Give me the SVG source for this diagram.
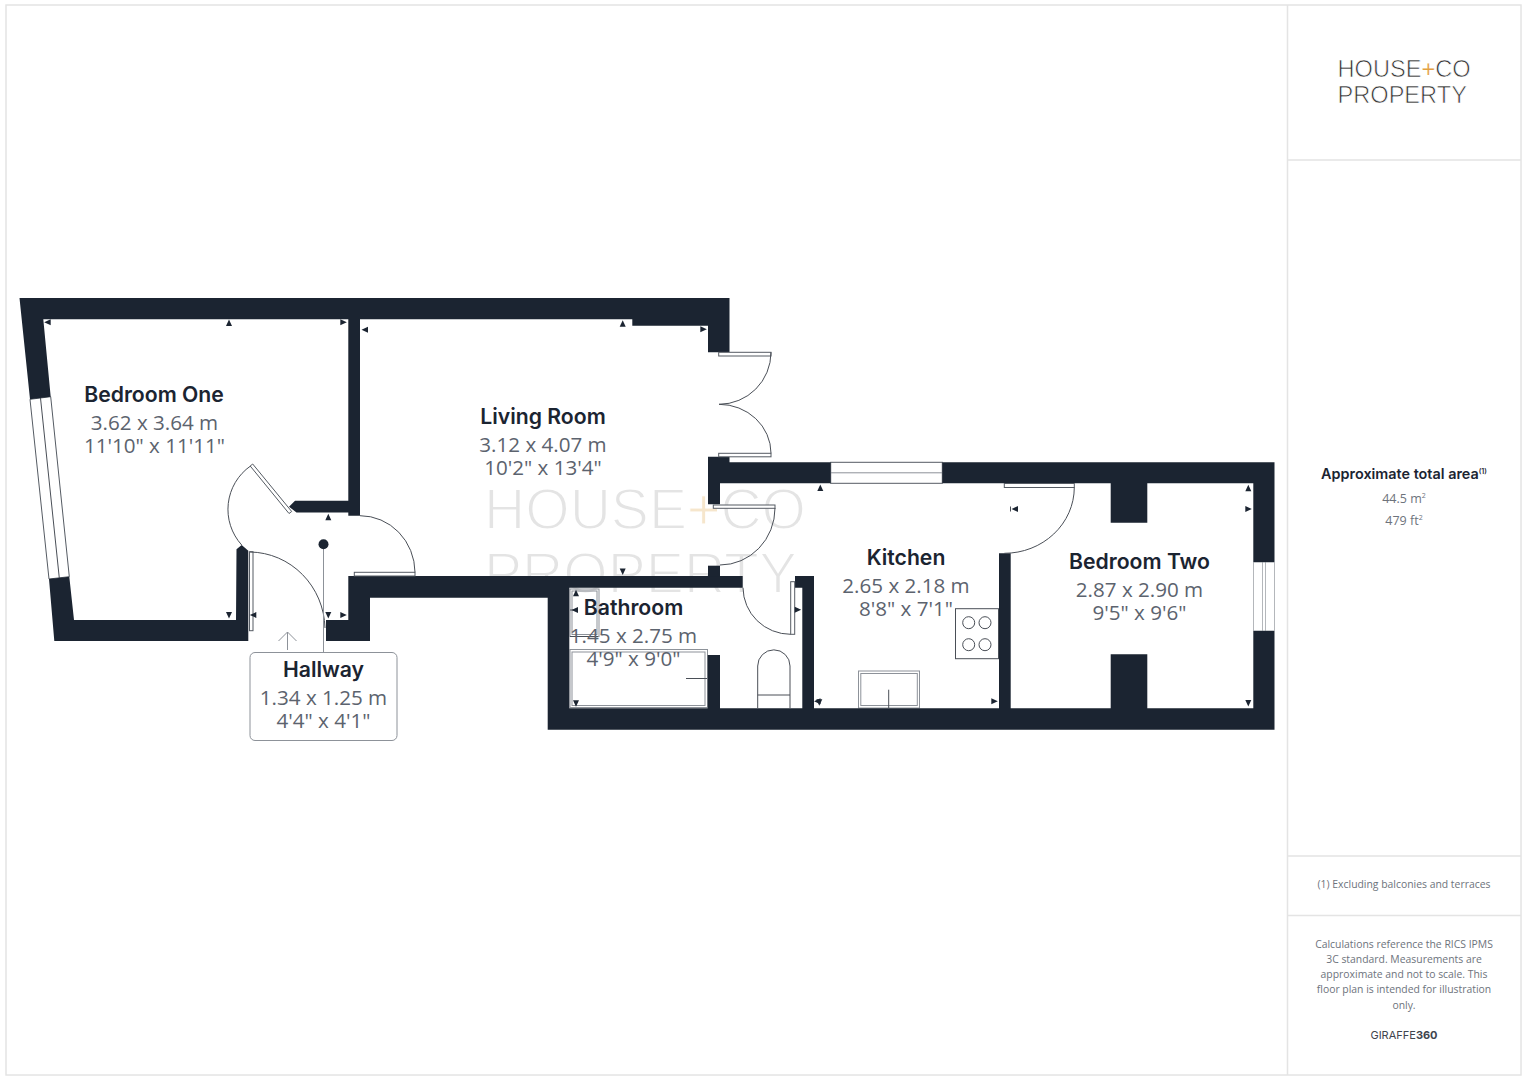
<svg xmlns="http://www.w3.org/2000/svg" width="1527" height="1080" viewBox="0 0 1527 1080">
<style>
.wall{fill:#1b2431}
.ln{fill:none;stroke:#4a4f57;stroke-width:1}
.lf{fill:#fff;stroke:#555b63;stroke-width:1}
.gr{fill:none;stroke:#8d9299;stroke-width:1}
.t{font-family:"Inter","Liberation Sans",sans-serif;font-weight:600;font-size:21.2px;fill:#1b2431;text-anchor:middle}
.d{font-family:"Open Sans","Noto Sans",sans-serif;font-size:20.6px;fill:#5c636e;text-anchor:middle}
.s{font-family:"Open Sans","Noto Sans",sans-serif;font-size:10.4px;fill:#6d737c;text-anchor:middle}
.logo{font-family:"Liberation Sans",Arial,sans-serif;stroke:#fff}
.frame{fill:none;stroke:#e4e4e4;stroke-width:1.5}
</style>
<defs>
<path id="u" d="M-3 3L0-3.5L3 3Z" fill="#1b2431"/>
</defs>
<rect width="1527" height="1080" fill="#fff"/>
<g id="frame">
<rect class="frame" x="6" y="5" width="1515" height="1070"/>
<path class="frame" d="M1287.500 5V1075M1287.500 160H1521M1287.500 856H1521M1287.500 915.500H1521"/>
</g>
<g id="watermark" class="logo" font-size="57.100" fill="#e4e4e4" stroke-width="1.800">
<text x="484" y="528.500">HOUSE<tspan fill="#f6e6cc" stroke-width="1">+</tspan>CO</text>
<text x="484" y="593">PROPERTY</text>
</g>
<g id="fixtures">
<rect class="gr" x="570" y="589" width="29" height="47.500"/>
<rect class="gr" x="572" y="591" width="25" height="43.500"/>
<path class="ln" d="M570 610H578M570 636.500H598"/>
<rect class="gr" x="570" y="649.500" width="137.500" height="58"/>
<rect class="gr" x="572" y="652" width="133" height="53.500"/>
<path class="ln" d="M686 678.500H707"/>
<path class="ln" d="M757.700 708V666A16 16 0 0 1 790 666V708M757.700 695H790"/>
<rect class="ln" x="955.500" y="608.700" width="43" height="50"/>
<circle class="ln" cx="968.700" cy="622.700" r="6"/><circle class="ln" cx="985" cy="622.700" r="6"/>
<circle class="ln" cx="968.700" cy="644.700" r="6"/><circle class="ln" cx="985" cy="644.700" r="6"/>
<rect class="gr" x="858.500" y="671" width="61" height="37"/>
<rect class="gr" x="860.800" y="673.500" width="56.500" height="32"/>
<path class="ln" d="M888.700 689.700V708"/>
</g>
<g id="windows">
<path class="lf" d="M30 399.300L50.700 396.700L69.300 576.700L49 579Z"/>
<path class="ln" d="M40.500 398L59.300 578"/>
<rect class="lf" x="830.700" y="462.300" width="111.600" height="21"/>
<path class="gr" d="M830.700 472.800H942.300"/>
<path d="M1262.500 562.300V630.700M1265.500 562.300V630.700M1253.500 562.300V630.700M1274.500 562.300V630.700" fill="none" stroke="#b4b7bb"/>
</g>
<g id="walls">
<polygon class="wall" points="19.500,298 729.500,298 729.500,352.300 708,352.300 708,325.700 632.300,325.700 632.300,319.300 360,319.300 360,515.700 348.300,515.700 348.300,512.500 296.500,512.500 289,506.700 295,500.700 348.300,500.700 348.300,319.300 43.300,319.300 50.700,396.700 30,399.300"/>
<polygon class="wall" points="49,579 69.300,576.700 74,620 236,620 236.500,549.300 241.700,545 248.300,550.700 248.300,641 54.300,641"/>
<polygon class="wall" points="326,620 348.300,620 348.300,576 742.700,576 742.700,587.700 569.300,587.700 569.300,708.300 707.700,708.300 707.700,655 720,655 720,708.300 802.300,708.300 802.300,587.700 795,587.700 795,576 814,576 814,708.300 999,708.300 999,553.300 1010.700,553.300 1010.700,708.300 1110.700,708.300 1110.700,654.300 1147.300,654.300 1147.300,708.300 1253.300,708.300 1253.300,630.700 1274.500,630.700 1274.500,729.700 547.700,729.700 547.700,597.700 370,597.700 370,641 326,641"/>
<rect class="wall" x="708" y="565.700" width="12" height="11"/>
<polygon class="wall" points="708,456.700 729.500,456.700 729.500,462.300 830.700,462.300 830.700,483.300 720,483.300 720,504.300 708,504.300"/>
<polygon class="wall" points="942.300,462.300 1274.500,462.300 1274.500,562.300 1253.300,562.300 1253.300,483.300 1147.300,483.300 1147.300,522.700 1110.700,522.700 1110.700,483.300 942.300,483.300"/>
</g>
<g id="doors">
<rect class="lf" x="249.500" y="551.700" width="3.500" height="79"/>
<path class="ln" d="M250 552A76 78 0 0 1 325 628"/>
<polygon class="lf" points="252.700,464 291.700,511.500 289,513.500 250.200,466"/>
<path class="ln" d="M250.500 466A53 53 0 0 0 241.700 545"/>
<rect class="lf" x="354.300" y="572.300" width="60.700" height="3.700"/>
<path class="ln" d="M360 515.700A55 57 0 0 1 415 572.300"/>
<rect class="lf" x="718.700" y="352.300" width="52.300" height="3.700"/>
<rect class="lf" x="718.700" y="453.300" width="52.300" height="3.500"/>
<path class="ln" d="M771 352.300A52 52 0 0 1 719 404.300A52 49 0 0 1 771 453.300"/>
<rect class="lf" x="713.300" y="505" width="61.700" height="3.300"/>
<path class="ln" d="M775 508A55 57 0 0 1 720 565"/>
<rect class="lf" x="790.700" y="581.700" width="4" height="52.600"/>
<path class="ln" d="M743 587.700A47.700 47 0 0 0 790.700 634.300"/>
<rect class="lf" x="1004.300" y="483.500" width="70" height="4"/>
<path class="ln" d="M1074.300 487.500A70 66 0 0 1 1004.300 553.300"/>
</g>
<g id="ticks">
<g transform="translate(47.700 322.300) rotate(-90)"><use href="#u"/></g>
<use href="#u" x="229" y="323"/>
<g transform="translate(343.300 322.300) rotate(90)"><use href="#u"/></g>
<g transform="translate(365 329.700) rotate(-90)"><use href="#u"/></g>
<use href="#u" x="328.300" y="517.300"/>
<g transform="translate(229 615) rotate(180)"><use href="#u"/></g>
<g transform="translate(253.300 615) rotate(-90)"><use href="#u"/></g>
<g transform="translate(328.300 615) rotate(180)"><use href="#u"/></g>
<g transform="translate(343.300 615) rotate(90)"><use href="#u"/></g>
<use href="#u" x="622.700" y="323.700"/>
<g transform="translate(703.300 329.300) rotate(90)"><use href="#u"/></g>
<use href="#u" x="820.300" y="488"/>
<g transform="translate(622.700 571.500) rotate(180)"><use href="#u"/></g>
<use href="#u" x="576" y="593.300"/>
<g transform="translate(575 610) rotate(-90)"><use href="#u"/></g>
<g transform="translate(576 703.300) rotate(180)"><use href="#u"/></g>
<g transform="translate(797.700 609.700) rotate(90)"><use href="#u"/></g>
<g transform="translate(819.300 702.300) rotate(180)"><use href="#u"/></g>
<g transform="translate(817.500 701.300) rotate(-90)"><use href="#u"/></g>
<g transform="translate(994.300 701.300) rotate(90)"><use href="#u"/></g>
<g transform="translate(1015 509) rotate(-90)"><use href="#u"/></g>
<path class="ln" d="M1010.500 506.500V511.500"/>
<use href="#u" x="1248.300" y="488.300"/>
<g transform="translate(1248.300 509) rotate(90)"><use href="#u"/></g>
<g transform="translate(1248.300 703) rotate(180)"><use href="#u"/></g>
</g>
<g id="connectors">
<path class="gr" d="M323.500 544V652.500"/>
<circle cx="323.500" cy="544.300" r="5" fill="#1b2431"/>
<path class="gr" d="M287.500 650V632M278.500 641L287.500 632L296.500 641"/>
</g>
<g id="bedroom-one"><text class="t" x="154" y="401.500">Bedroom One</text><text class="d" x="154.500" y="430">3.62 x 3.64 m</text><text class="d" x="154.500" y="453">11'10" x 11'11"</text></g>
<g id="living-room"><text class="t" x="543" y="424">Living Room</text><text class="d" x="543" y="452">3.12 x 4.07 m</text><text class="d" x="543" y="475">10'2" x 13'4"</text></g>
<g id="kitchen"><text class="t" x="906" y="564.500">Kitchen</text><text class="d" x="906" y="592.500">2.65 x 2.18 m</text><text class="d" x="906" y="615.500">8'8" x 7'1"</text></g>
<g id="bedroom-two"><text class="t" x="1139.500" y="568.500">Bedroom Two</text><text class="d" x="1139.500" y="596.500">2.87 x 2.90 m</text><text class="d" x="1139.500" y="619.500">9'5" x 9'6"</text></g>
<g id="bathroom"><text class="t" x="633.500" y="615">Bathroom</text><text class="d" x="633.500" y="643">1.45 x 2.75 m</text><text class="d" x="633.500" y="666">4'9" x 9'0"</text></g>
<g id="hallway"><rect x="250" y="652.500" width="147" height="88" rx="5" fill="#fff" stroke="#8d9299"/><text class="t" x="323.500" y="677">Hallway</text><text class="d" x="323.500" y="705">1.34 x 1.25 m</text><text class="d" x="323.500" y="728">4'4" x 4'1"</text></g>
<g id="logo" class="logo" font-size="23.600" fill="#333" stroke-width="0.700">
<text x="1337.500" y="76.800">HOUSE<tspan fill="#e3a040" stroke-width="0.200">+</tspan>CO</text>
<text x="1337.500" y="102.800">PROPERTY</text>
</g>
<g id="area">
<text x="1404" y="479" font-family="Inter,'Liberation Sans',sans-serif" font-weight="600" font-size="14.400px" fill="#1b2431" text-anchor="middle">Approximate total area<tspan font-size="7px" dy="-5">(1)</tspan></text>
<text class="s" x="1404" y="503" style="font-size:12.500px">44.5 m<tspan style="font-size:7px" dy="-5">2</tspan></text>
<text class="s" x="1404" y="525" style="font-size:12.500px">479 ft<tspan style="font-size:7px" dy="-5">2</tspan></text>
</g>
<g id="notes">
<text class="s" x="1404" y="888">(1) Excluding balconies and terraces</text>
<text class="s" x="1404" y="948">Calculations reference the RICS IPMS</text>
<text class="s" x="1404" y="963">3C standard. Measurements are</text>
<text class="s" x="1404" y="978">approximate and not to scale. This</text>
<text class="s" x="1404" y="993">floor plan is intended for illustration</text>
<text class="s" x="1404" y="1009">only.</text>
<text x="1404" y="1039" font-family="Inter,'Liberation Sans',sans-serif" font-size="11px" fill="#3f454e" text-anchor="middle">GIRAFFE<tspan font-weight="700">360</tspan></text>
</g>
</svg>
